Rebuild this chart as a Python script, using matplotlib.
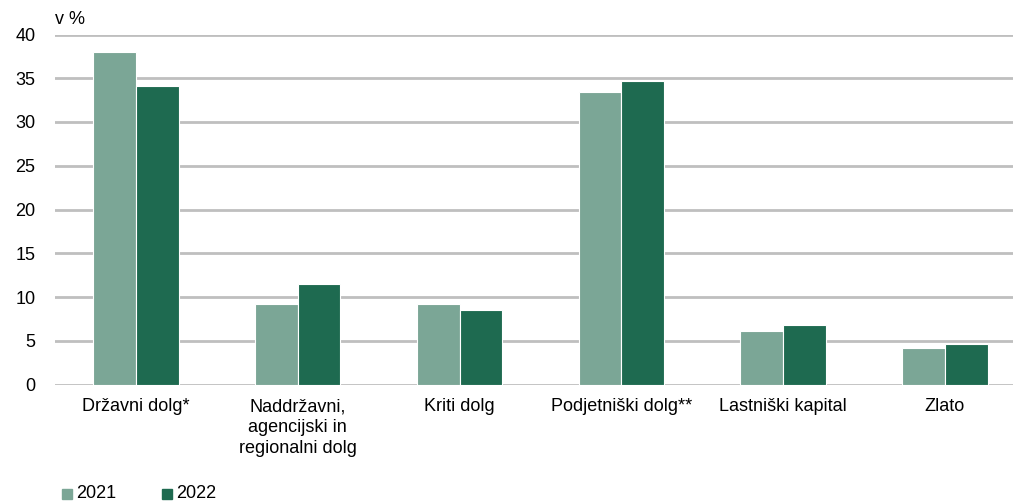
import matplotlib.pyplot as plt
import numpy as np
from matplotlib.patches import Rectangle

plt.rcParams['font.family'] = ['Liberation Sans Narrow', 'Liberation Sans', 'DejaVu Sans']

categories = ["Državni dolg*", "Naddržavni,\nagencijski in\nregionalni dolg",
              "Kriti dolg", "Podjetniški dolg**", "Lastniški kapital", "Zlato"]
series_names = ["2021", "2022"]
values_2021 = [38.0, 9.25, 9.25, 33.4, 6.1, 4.15]
values_2022 = [34.1, 11.45, 8.5, 34.65, 6.85, 4.65]
yticks = [0, 5, 10, 15, 20, 25, 30, 35, 40]

col_2021 = "#7ba696"
col_2022 = "#1e6a50"
grid_col = "#bfbfbf"

fig = plt.figure(figsize=(10.13, 5.04), dpi=100)
ax = fig.add_axes([55 / 1013, 1 - 384.5 / 504, (1013 - 55) / 1013, 350 / 504])

x = np.arange(len(categories))
w = 0.264
ax.bar(x - w / 2, values_2021, w, color=col_2021, edgecolor="white", linewidth=0.8, zorder=3)
ax.bar(x + w / 2, values_2022, w, color=col_2022, edgecolor="white", linewidth=0.8, zorder=3)

ax.set_ylim(0, 40)
ax.set_xlim(-0.5, -0.5 + (1013 - 55) / 161.8)
ax.set_yticks(yticks)
ax.yaxis.grid(True, color=grid_col, linewidth=2, zorder=0)
ax.set_axisbelow(True)
for s in ax.spines.values():
    s.set_visible(False)
ax.tick_params(axis="both", length=0, labelsize=13)
ax.tick_params(axis="y", pad=14)
ax.tick_params(axis="x", pad=10)
ax.set_xticks(x)
ax.set_xticklabels(categories, linespacing=1.3)

fig.text(55 / 1013, 1 - 20 / 504, "v %", fontsize=13, va="center", ha="left")

# legend at bottom left
for i, (name, col) in enumerate(zip(series_names, [col_2021, col_2022])):
    x0 = 62 + i * 100
    fig.patches.append(Rectangle((x0 / 1013, 1 - 499 / 504), 10 / 1013, 10 / 504,
                                 transform=fig.transFigure, color=col))
    fig.text((x0 + 14) / 1013, 1 - 494 / 504, name, fontsize=13, va="center", ha="left")

fig.savefig("out.png", dpi=100)
